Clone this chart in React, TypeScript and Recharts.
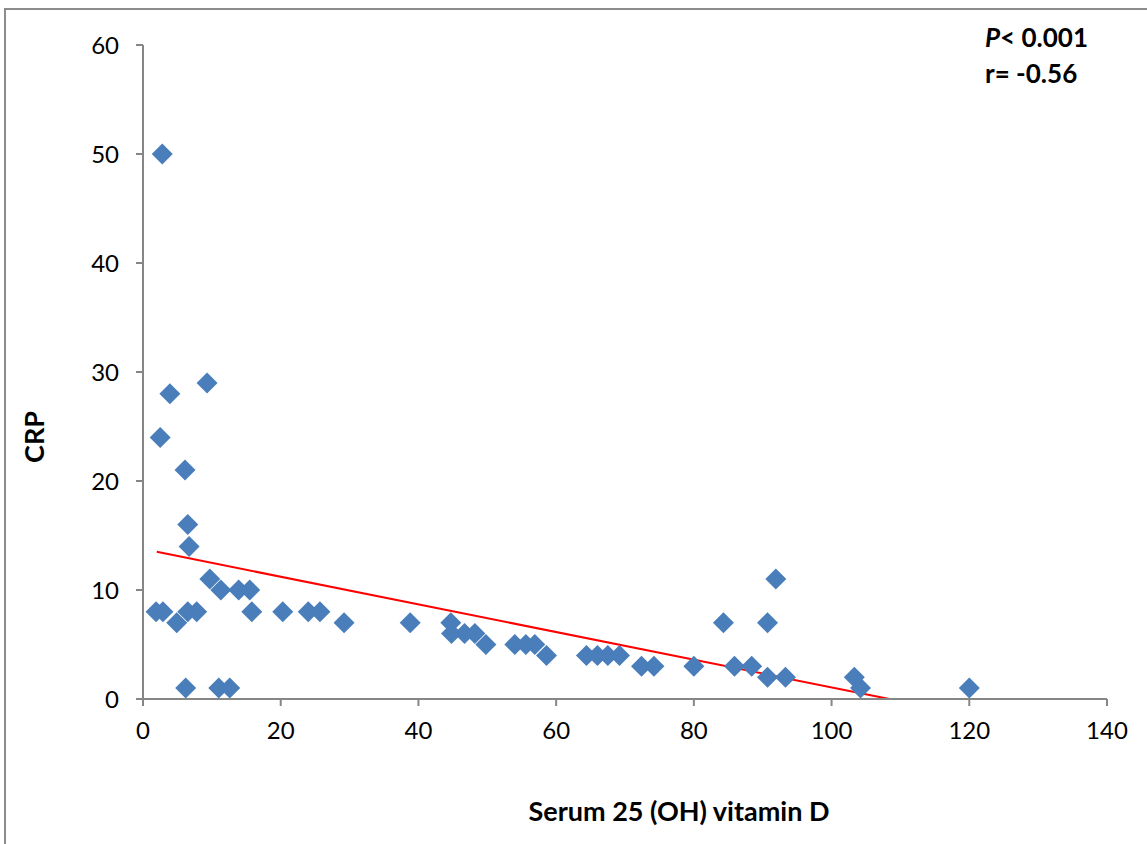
import React from 'react';
import { ScatterChart, Scatter, XAxis, YAxis, ReferenceLine } from 'recharts';

const vitaminD = [
  2.8, 2.5, 3.9, 9.3, 6.1, 6.5, 6.7, 9.7, 11.3, 13.9, 15.5, 1.9, 2.9, 4.9, 6.5, 7.8, 15.8,
  6.2, 11.0, 12.6, 20.3, 24.0, 25.7, 29.2, 38.8, 44.7, 44.8, 46.7, 48.2, 49.8, 54.0, 55.6,
  56.9, 58.6, 64.4, 66.0, 67.5, 69.2, 72.4, 74.2, 80.0, 84.3, 85.9, 88.4, 90.7, 90.7, 91.9,
  93.3, 103.3, 104.2, 120.0,
];
const crp = [
  50, 24, 28, 29, 21, 16, 14, 11, 10, 10, 10, 8, 8, 7, 8, 8, 8,
  1, 1, 1, 8, 8, 8, 7, 7, 7, 6, 6, 6, 5, 5, 5,
  5, 4, 4, 4, 4, 4, 3, 3, 3, 7, 3, 3, 7, 2, 11,
  2, 2, 1, 1,
];
const trendX = [2.0, 108.4];
const trendY = [13.5, 0];
const xTicks = [0, 20, 40, 60, 80, 100, 120, 140];
const yTicks = [0, 10, 20, 30, 40, 50, 60];

const points = vitaminD.map((x, i) => ({ x, y: crp[i] }));
const trendSegment = trendX.map((x, i) => ({ x, y: trendY[i] }));

const FONT = 'Lato, "Open Sans", sans-serif';
const AXIS_COLOR = '#868686';

const Diamond = (props: any) => {
  const { cx, cy } = props;
  if (cx == null || cy == null) return null;
  const r = 10.5;
  return (
    <polygon
      points={`${cx},${cy - r} ${cx + r},${cy} ${cx},${cy + r} ${cx - r},${cy}`}
      fill="#4A7EBB"
    />
  );
};

export default function App() {
  return (
    <div style={{ position: 'absolute', left: 0, top: 0, width: 1147, height: 844, overflow: 'hidden', background: '#fff', fontFamily: FONT }}>
      <div style={{ position: 'absolute', left: 4, top: 8, width: 1200, height: 900, border: '2px solid #8c8c8c' }} />
      <div style={{ position: 'absolute', left: 0, top: 0 }}>
        <ScatterChart width={1147} height={844} margin={{ top: 45, right: 40, bottom: 105, left: 83 }}>
          <XAxis
            type="number"
            dataKey="x"
            domain={[0, 140]}
            ticks={xTicks}
            interval={0}
            height={40}
            stroke={AXIS_COLOR}
            strokeWidth={2}
            tickSize={7}
            tickMargin={16}
            tick={{ fill: '#000', fontSize: 24, fontFamily: FONT }}
          />
          <YAxis
            type="number"
            dataKey="y"
            domain={[0, 60]}
            ticks={yTicks}
            interval={0}
            width={60}
            stroke={AXIS_COLOR}
            strokeWidth={2}
            tickSize={7}
            tickMargin={17}
            tick={{ fill: '#000', fontSize: 24, fontFamily: FONT }}
          />
          <Scatter data={points} shape={<Diamond />} isAnimationActive={false} />
          <ReferenceLine
            segment={trendSegment}
            stroke="#FF0000"
            strokeWidth={2}
            ifOverflow="visible"
          />
        </ScatterChart>
      </div>
      <div style={{ position: 'absolute', left: 33, top: 437, transform: 'translate(-50%, -50%) rotate(-90deg)', fontWeight: 700, fontSize: 27, whiteSpace: 'nowrap' }}>
        CRP
      </div>
      <div style={{ position: 'absolute', left: 679, top: 810, transform: 'translate(-50%, -50%)', fontWeight: 700, fontSize: 27, whiteSpace: 'nowrap' }}>
        Serum 25 (OH) vitamin D
      </div>
      <div style={{ position: 'absolute', left: 985, top: 19, fontWeight: 700, fontSize: 26, lineHeight: '36px', whiteSpace: 'nowrap' }}>
        <div><i>P</i>&lt; 0.001</div>
        <div>r= -0.56</div>
      </div>
    </div>
  );
}
